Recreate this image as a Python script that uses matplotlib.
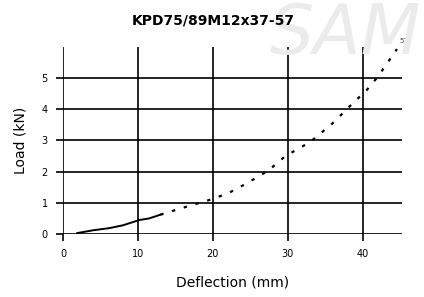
import matplotlib.pyplot as plt

# curve
defl_solid = [1.9, 4.0, 6.2, 8.0, 10.2, 11.5, 13.0]
load_solid = [0.03, 0.12, 0.19, 0.28, 0.45, 0.5, 0.62]
defl_dash = [13.0, 16.4, 19.5, 22.0, 24.1, 25.8, 27.5, 29.7, 33.0, 36.0, 38.9, 40.5, 42.0, 44.6]
load_dash = [0.62, 0.87, 1.09, 1.3, 1.57, 1.8, 2.05, 2.5, 2.95, 3.55, 4.24, 4.6, 5.03, 5.93]
xticks = [0, 10, 20, 30, 40]
yticks = [0, 1, 2, 3, 4, 5]
end_label = "57"

fig = plt.figure(figsize=(4.24, 2.97), dpi=100)
ax = fig.add_axes([0.1486, 0.212, 0.8, 0.63])

fig.text(0.635, 0.885, "SAM", fontsize=50, style='italic', color='#ebebeb',
         ha='left', va='center', zorder=0)

ax.plot(defl_solid, load_solid, color='black', lw=1.4, clip_on=False)
ax.plot(defl_dash, load_dash, color='black', lw=1.6, ls=(0, (1.5, 4)), clip_on=False)
ax.text(defl_dash[-1] + 0.3, load_dash[-1] + 0.15, end_label, fontsize=5, color='#444444',
        ha='left', va='bottom')

ax.set_xlim(0, 45.3)
ax.set_ylim(0, 6)
ax.set_xticks(xticks)
ax.set_yticks(yticks)
ax.grid(True, color='black', lw=1.2)
ax.set_axisbelow(True)
for s in ax.spines.values():
    s.set_visible(False)
ax.tick_params(length=5, width=1.2, color='black', labelsize=7, pad=6)
ax.patch.set_alpha(0)

ax.set_xlabel("Deflection (mm)", fontsize=10, labelpad=12)
ax.set_ylabel("Load (kN)", fontsize=10, labelpad=10)
fig.text(0.503, 0.93, "KPD75/89M12x37-57", fontsize=10, fontweight='bold',
         ha='center', va='center')

fig.savefig("out.png", dpi=100)
